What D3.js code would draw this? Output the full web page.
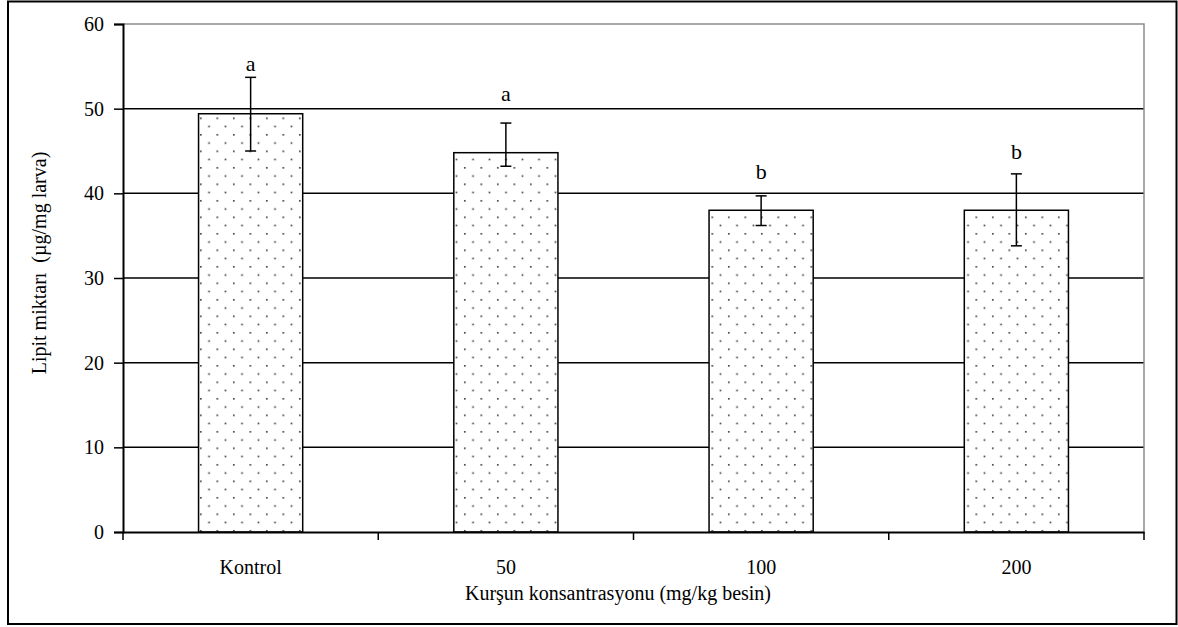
<!DOCTYPE html>
<html>
<head>
<meta charset="utf-8">
<script src="https://cdn.jsdelivr.net/npm/d3@7"></script>
<style>
  html, body { margin: 0; padding: 0; background: #fff; }
  svg { display: block; }
  text { font-family: "Liberation Serif", "Times New Roman", serif; fill: #000; }
</style>
</head>
<body>
<svg id="chart" width="1178" height="627"></svg>
<script>
const categories = ["Kontrol", "50", "100", "200"];
const means = [49.4, 44.8, 38.0, 38.0];
const errUpper = [53.7, 48.3, 39.7, 42.3];
const errLower = [45.0, 43.2, 36.2, 33.8];
const letters = ["a", "a", "b", "b"];
const letterLevels = [54.4, 50.9, 41.7, 44.1];
const yTicks = [0, 10, 20, 30, 40, 50, 60];
const xTitle = "Kurşun konsantrasyonu (mg/kg besin)";
const yTitle = "Lipit miktarı  (µg/mg larva)";

const svg = d3.select("#chart");
const L = 123, R = 1144, T = 24, B = 532;

const y = d3.scaleLinear().domain([0, 60]).range([B, T]);
const x = d3.scaleBand().domain(categories).range([L, R]).padding(0);
const barW = x.bandwidth() * 0.408;

// outer frame
svg.append("rect").attr("x", 8).attr("y", 1.5).attr("width", 1168.5).attr("height", 622.5)
  .attr("fill", "none").attr("stroke", "#000").attr("stroke-width", 2);

// pattern
const defs = svg.append("defs");
const pat = defs.append("pattern").attr("id", "dots").attr("patternUnits", "userSpaceOnUse")
  .attr("width", 16.5).attr("height", 16.5);
pat.append("rect").attr("width", 16.5).attr("height", 16.5).attr("fill", "#fff");
pat.append("rect").attr("x", 2).attr("y", 2).attr("width", 1.6).attr("height", 1.6).attr("fill", "#333");
pat.append("rect").attr("x", 10.25).attr("y", 10.25).attr("width", 1.6).attr("height", 1.6).attr("fill", "#333");

// gridlines
svg.append("g").selectAll("line").data(yTicks.filter(d => d > 0 && d < 60)).join("line")
  .attr("x1", L).attr("x2", R).attr("y1", d => y(d)).attr("y2", d => y(d))
  .attr("stroke", "#000").attr("stroke-width", 1.5);
// plot border top/right (gray)
svg.append("path").attr("d", `M${L},${y(60)}H${R}V${B}`)
  .attr("fill", "none").attr("stroke", "#8c8c8c").attr("stroke-width", 1.5);

// bars
svg.append("g").selectAll("rect").data(categories).join("rect")
  .attr("x", d => x(d) + (x.bandwidth() - barW) / 2)
  .attr("y", (d, i) => y(means[i]))
  .attr("width", barW)
  .attr("height", (d, i) => y(0) - y(means[i]))
  .attr("fill", "url(#dots)").attr("stroke", "#000").attr("stroke-width", 1.5);

// error bars
const eb = svg.append("g").attr("stroke", "#000").attr("stroke-width", 1.5);
categories.forEach((c, i) => {
  const cx = x(c) + x.bandwidth() / 2;
  eb.append("line").attr("x1", cx).attr("x2", cx).attr("y1", y(errUpper[i])).attr("y2", y(errLower[i]));
  eb.append("line").attr("x1", cx - 5.5).attr("x2", cx + 5.5).attr("y1", y(errUpper[i])).attr("y2", y(errUpper[i]));
  eb.append("line").attr("x1", cx - 5.5).attr("x2", cx + 5.5).attr("y1", y(errLower[i])).attr("y2", y(errLower[i]));
});

// letters
svg.append("g").selectAll("text").data(categories).join("text")
  .attr("x", d => x(d) + x.bandwidth() / 2)
  .attr("y", (d, i) => y(letterLevels[i]))
  .attr("text-anchor", "middle").attr("font-size", 22)
  .text((d, i) => letters[i]);

// y axis
const yAxis = d3.axisLeft(y).tickValues(yTicks).tickSize(9).tickPadding(10);
const gy = svg.append("g").attr("transform", `translate(${L},0)`).call(yAxis);
gy.select(".domain").attr("stroke", "#000").attr("stroke-width", 2);
gy.selectAll(".tick line").attr("stroke", "#000").attr("stroke-width", 1.5);
gy.selectAll(".tick text").attr("font-size", 20).attr("font-family", "Liberation Serif").attr("fill", "#000");

// x axis
const xAxis = d3.axisBottom(x).tickSize(0).tickPadding(28);
const gx = svg.append("g").attr("transform", `translate(0,${B})`).call(xAxis);
gx.select(".domain").attr("stroke", "#000").attr("stroke-width", 2);
gx.selectAll(".tick text").attr("font-size", 20).attr("font-family", "Liberation Serif").attr("fill", "#000");
// boundary ticks
const bounds = categories.map(c => x(c)).concat([x(categories[categories.length - 1]) + x.bandwidth()]);
svg.append("g").selectAll("line").data(bounds).join("line")
  .attr("x1", d => d).attr("x2", d => d).attr("y1", B).attr("y2", B + 8)
  .attr("stroke", "#000").attr("stroke-width", 1.5);

// axis titles
svg.append("text").attr("x", 618).attr("y", 600).attr("text-anchor", "middle")
  .attr("font-size", 20).text(xTitle);
svg.append("text").attr("transform", "translate(46,263) rotate(-90)")
  .attr("text-anchor", "middle").attr("font-size", 20).style("white-space", "pre").text(yTitle);
</script>
</body>
</html>
